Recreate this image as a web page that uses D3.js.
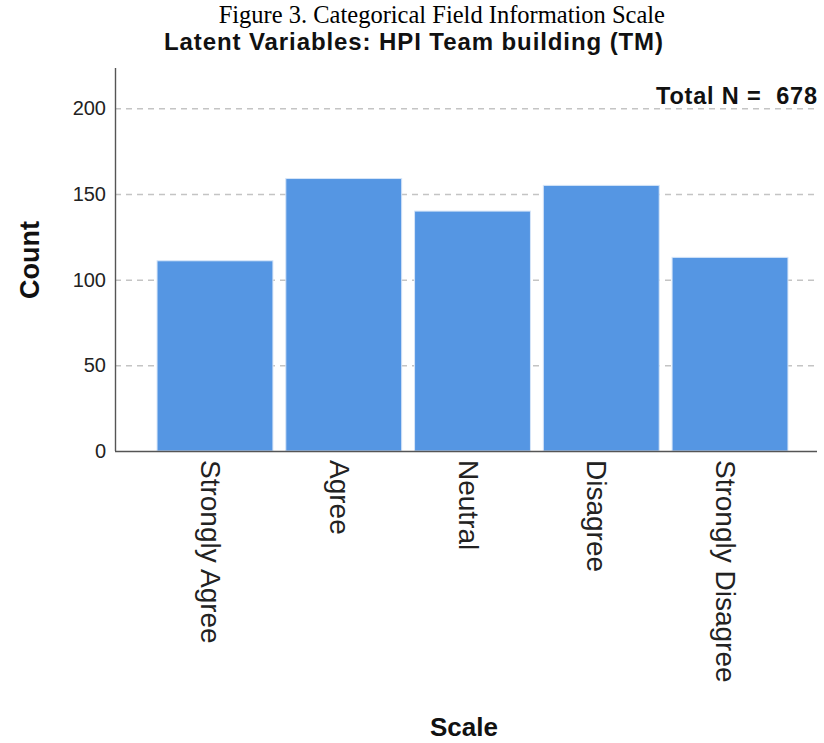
<!DOCTYPE html>
<html><head><meta charset="utf-8">
<script src="https://cdn.jsdelivr.net/npm/d3@7"></script>
<style>body{margin:0;background:#fff}svg{display:block}</style>
</head><body>
<script>
const categories = ["Strongly Agree","Agree","Neutral","Disagree","Strongly Disagree"];
const counts = [111,159,140,155,113];
const yTicks = [0,50,100,150,200];
const totalN = 678;

const W = 824, H = 743;
const svg = d3.select("body").append("svg").attr("width",W).attr("height",H);
const SANS = "Liberation Sans, Arial, sans-serif";

const plot = {left:115, right:817, top:68, bottom:451};
const y = d3.scaleLinear().domain([0,223.5]).range([plot.bottom, plot.top]);
const x = d3.scaleBand().domain(categories).range([150.6, 794.4]).paddingInner(0.10).paddingOuter(0.05);

// gridlines
svg.append("g").selectAll("line").data(yTicks.filter(d=>d>0)).join("line")
  .attr("x1",plot.left).attr("x2",plot.right)
  .attr("y1",d=>y(d)+0.5).attr("y2",d=>y(d)+0.5)
  .attr("stroke","#c4c4c4").attr("stroke-width",1.5).attr("stroke-dasharray","6,5");

// bars
svg.append("g").selectAll("rect").data(categories).join("rect")
  .attr("x",d=>x(d)).attr("width",x.bandwidth())
  .attr("y",(d,i)=>y(counts[i])).attr("height",(d,i)=>y(0)-y(counts[i]))
  .attr("fill","#5596e3").attr("stroke","#d6e5f8").attr("stroke-width",1);

// y axis
const yAxis = d3.axisLeft(y).tickValues(yTicks).tickSize(0).tickPadding(9);
const gy = svg.append("g").attr("transform",`translate(${plot.left},0)`).call(yAxis);
gy.select(".domain").remove();
gy.selectAll("text").attr("font-family",SANS).attr("font-size",20).attr("fill","#222");
svg.append("line").attr("x1",plot.left+0.5).attr("x2",plot.left+0.5).attr("y1",plot.top).attr("y2",plot.bottom)
  .attr("stroke","#555").attr("stroke-width",1.4);
svg.append("line").attr("x1",plot.left).attr("x2",plot.right).attr("y1",plot.bottom+0.5).attr("y2",plot.bottom+0.5)
  .attr("stroke","#555").attr("stroke-width",1.4);

// x axis labels
const xAxis = d3.axisBottom(x).tickSize(0).tickPadding(0);
const gx = svg.append("g").attr("transform",`translate(0,${plot.bottom})`).call(xAxis);
gx.select(".domain").remove();
gx.selectAll("text")
  .attr("font-family",SANS).attr("font-size",28).attr("fill","#222")
  .attr("text-anchor","start").attr("dy","0.35em").attr("y",0)
  .attr("transform","translate(-4,9) rotate(90)");

// titles
svg.append("text").attr("x",665).attr("y",23).attr("text-anchor","end")
  .attr("font-family","Liberation Serif, Times New Roman, serif").attr("font-size",24.5).attr("fill","#000")
  .text("Figure 3. Categorical Field Information Scale");
svg.append("text").attr("x",164).attr("y",50).attr("text-anchor","start")
  .attr("font-family",SANS).attr("font-weight","bold").attr("font-size",24).attr("fill","#111")
  .attr("textLength",499).attr("lengthAdjust","spacing")
  .text("Latent Variables: HPI Team building (TM)");
svg.append("text").attr("x",656).attr("y",104).attr("text-anchor","start")
  .attr("font-family",SANS).attr("font-weight","bold").attr("font-size",23.5).attr("fill","#111")
  .attr("textLength",161).attr("lengthAdjust","spacing")
  .attr("xml:space","preserve").text("Total N =  " + totalN);

// axis titles
svg.append("text").attr("transform","translate(39,260) rotate(-90)").attr("text-anchor","middle")
  .attr("font-family",SANS).attr("font-weight","bold").attr("font-size",27).attr("fill","#111")
  .text("Count");
svg.append("text").attr("x",464).attr("y",736).attr("text-anchor","middle")
  .attr("font-family",SANS).attr("font-weight","bold").attr("font-size",26).attr("fill","#111")
  .text("Scale");
</script>
</body></html>
